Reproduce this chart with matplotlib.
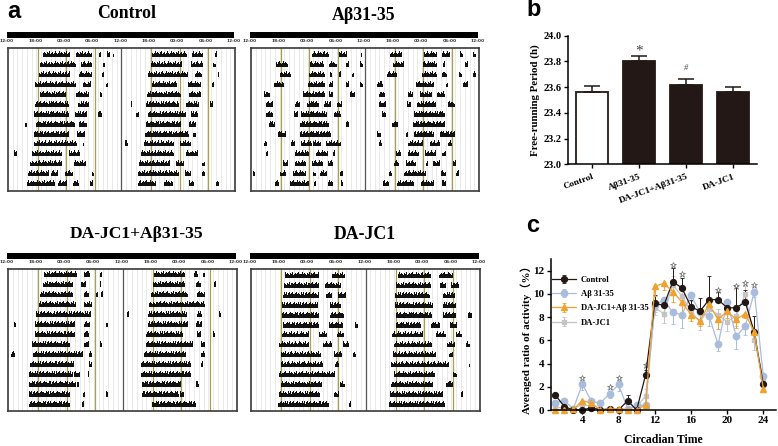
import numpy as np
import matplotlib
matplotlib.use('Agg')
import matplotlib.pyplot as plt

W, H = 778, 446
serif = ['Liberation Serif', 'Noto Sans CJK SC']

# actogram bouts, one list per day, in hours after the first 12:00 (double plotted)
control_bouts = [
    [(7.5,13.1),(14.3,17.7),(19.2,19.6),(20.9,21.5),(22.2,22.4),(30.4,37.8),(39,41.3),(43.7,44.2)],
    [(6.8,14.4),(15.4,17.7),(20,20.6),(30.2,36.8),(38.7,41.2),(43.4,43.9)],
    [(6.6,13.2),(15.1,17.7),(19.8,20.3),(29.5,38),(39.6,41.1),(44.3,44.7)],
    [(5.8,14.3),(15.9,17.5),(20.7,21.1),(30.4,35.8),(38,40.8),(43.1,43.5)],
    [(6.8,12.3),(14.4,17.2),(19.5,19.9),(29.4,36.5),(38.3,40.9)],
    [(5.8,13),(14.7,17.2),(26,26.3),(29.2,36.2),(37.7,40.4),(42.7,43.4)],
    [(5.6,13),(14.2,16.7),(19.1,19.8),(27.1,27.7),(29.6,37.7),(38.7,40.2)],
    [(3.6,4),(6,14.2),(15.1,16.6),(29.2,36.5),(38.2,39.7)],
    [(5.6,13),(14.6,16.3),(29,38.2),(39.2,39.7)],
    [(5.4,14.6),(15.8,16.1),(24.8,25.4),(28.8,35.1),(36.3,38.8)],
    [(1.2,1.8),(5.1,11.5),(12.8,15.3),(28.2,35),(37.6,40.2)],
    [(4.6,11.4),(14,16.5),(27.7,34.3),(35.6,37.3),(41.1,41.6)],
    [(4.3,8.6),(9,10.6),(12.1,13.8),(17.7,18.1),(27.5,34),(34.1,36.2),(37.5,38.7),(41,41.6)],
    [(4,10),(10.5,12.5),(13.8,15),(17.4,18),(27.4,31.3),(33,34.9),(38.2,39.4),(43.9,44.6)],
]
abeta_bouts = [
    [(12.8,16.5),(18.5,20.3),(23.1,23.4),(29.2,31.7),(36.4,39.1),(40.3,41.9),(43.9,44.6),(46.7,47.3)],
    [(5.3,7.8),(12.5,15.3),(16.5,18),(20.1,20.6),(22.9,23.5),(29.9,32.3),(36.2,39.2),(40.4,40.8),(45,45.7)],
    [(6.2,8.5),(12.3,15.5),(16.7,17),(18.6,18.9),(21.3,21.7),(28.7,30.8),(36.1,39.2),(40.3,41.2),(43.8,44.4),(46.7,47.4)],
    [(4.9,6.9),(12.1,15.5),(16.4,17.3),(20,20.6),(22.9,23.6),(26.6,27.7),(34.7,38.5),(41,41.5),(44.6,45.7)],
    [(2.8,3.9),(10.9,15.6),(16.5,17.3),(20.8,21.8),(26.9,28.3),(33.1,34.2),(35.5,38.2),(39.1,40.8)],
    [(3.1,4.6),(9.3,10.4),(11.7,14.4),(15.3,16.9),(18,19.2),(27,28.4),(32.9,33.6),(35,38.9),(41.5,42.9)],
    [(3.1,4.6),(9,9.9),(10.5,16),(17.4,19),(27.5,28.4),(34.3,40.9)],
    [(3.8,5.1),(10.4,16.5),(19.9,20.6),(29.6,31),(34.1,40.9)],
    [(5.7,7.3),(10.4,16.9),(26.6,27.3),(32.6,33.1),(34.3,38.5),(39.7,42.9)],
    [(2.7,3.4),(8.5,9.3),(10.6,12.8),(13.1,14.8),(15.8,19),(26.9,27.6),(33.1,36.2),(37.7,39.8),(41.5,42.4)],
    [(3.1,3.6),(9.2,12.3),(13.7,16.2),(17.2,17.6),(30.5,31.6),(33.1,35.4),(36.6,39),(40.3,41)],
    [(6.7,7.8),(9.2,11.6),(12.8,15.1),(16.2,17.3),(30.1,31.2),(32.6,34.7),(36.8,37.2),(38.4,39.8),(42.5,43.2)],
    [(0.4,0.8),(6.2,7.3),(8.8,11.6),(13,13.6),(14.5,15.9),(18.8,19.3),(29,29.7),(32.2,36.8),(39.9,41),(43.1,43.7)],
    [(5,5.9),(8.3,12.3),(13.3,13.6),(16.2,17.3),(19,19.4),(27.7,29.1),(30.8,34.3),(35.7,38.6),(40.3,41)],
]
combo_bouts = [
    [(7.6,14.5),(16,17.1),(19.2,19.7),(30.7,37),(39,39.8),(40.8,41.3)],
    [(7.3,13.6),(15.3,16.4),(19.2,19.5),(30.3,37.2),(39.5,40.5),(43.1,43.5)],
    [(6.8,13.6),(15.9,16.9),(18.5,18.9),(19.4,19.9),(30,37.7),(39.6,41.2)],
    [(6.6,14.3),(16,17.6),(29.5,39.8),(39.8,41.2)],
    [(5.9,17.4),(25,25.4),(29.4,37.5),(39.6,40.7),(44.2,44.7)],
    [(1.3,1.7),(5.7,14.1),(16,17.1),(20.6,21),(29.3,37.7),(39.5,40.6)],
    [(5.7,14.1),(16,16.9),(29,36.6),(39.6,40.5),(43,43.4)],
    [(5,13),(16,16.9),(19.2,19.6),(29,38.7),(40.5,41.2)],
    [(0.7,1.5),(5.3,15.7),(16.9,17.6),(28.5,37.3),(40.4,41.2)],
    [(4.7,13.8),(16.9,17.6),(27.9,38.4),(40.4,40.8)],
    [(4.3,13.6),(13.9,15),(16.7,17),(27.9,38.4)],
    [(4.3,14.3),(14.5,14.9),(28,36.3),(39.5,40)],
    [(4.5,12.9),(15.8,16.2),(20.5,21),(28,35.9),(36.1,36.8)],
    [(4.3,12.9),(15.5,15.9),(30.2,39.4)],
]
dajc_bouts = [
    [(7.2,14.3),(16.9,19.6),(30.8,37.8),(39.4,42.4)],
    [(7,14.2),(15.6,18.9),(30.4,37.8),(39.7,40.9),(42,43.7)],
    [(6.8,14.2),(15.7,17),(18.2,19.9),(30.2,37.6),(40.3,42.7)],
    [(6.5,14),(16.6,18.9),(30.2,38.1),(40.2,43)],
    [(6.6,14.3),(16.6,19.4),(30.4,37.9),(40.2,43),(45.5,46.4)],
    [(6.8,14.2),(16.4,19.2),(21.7,22.4),(30.4,35.7),(37.8,39.7),(41.7,43.1)],
    [(6.6,12.1),(14.2,15.9),(18,19.4),(29.6,36),(38.8,40.8),(43,44.3)],
    [(5.9,12.2),(15,17),(19.2,20.5),(29.9,38),(41.1,42.7),(45.1,45.8)],
    [(6.2,14.7),(17.5,19.1),(21.3,22),(29.7,38.8),(41.5,42.3)],
    [(6.2,15),(17.7,18.5),(29.4,41.4),(45.6,46)],
    [(5.8,17.7),(29.9,38.5),(42.4,43.1)],
    [(6.2,14.8),(18.7,19.6),(29.4,38.1),(40.9,42.3)],
    [(5.8,14.5),(17.3,18.5),(29.2,40.2),(44,44.4)],
    [(5.6,16.4),(20.6,21),(29,40.6)],
]
acto_ticks = [0, 6, 12, 18, 24, 30, 36, 42, 48]
acto_labels = ['12:00', '18:00', '00:00', '06:00', '12:00', '18:00', '00:00', '06:00', '12:00']
skyline = [.6, .75, 1, .7, .85, .65, .55, .9, .7, 1, .5, .75, .9, .6, .8, 1, .65]

# free-running period
groups = ['Control', 'Aβ31-35', 'DA-JC1+Aβ31-35', 'DA-JC1']
period = [23.56, 23.80, 23.62, 23.56]
period_err = [0.05, 0.04, 0.04, 0.04]

# activity profile
hours = list(range(1, 25))
act_control = [1.3,0.3,0,0,0.2,0,0.1,0,0.8,0,3.05,9.2,9.0,11.05,10.5,8.9,8.5,9.5,9.5,8.8,8.8,9.3,6.7,2.2]
err_control = [0.2,0.2,0.05,0.1,0.2,0.05,0.1,0.05,0.45,0.05,0.4,0.7,0.6,1.2,0.9,0.6,1.1,2.0,0.7,0.5,1.9,1.0,1.35,0.3]
act_abeta = [0.6,0.8,0.1,2.25,0.75,0.6,1.4,2.2,0.1,0.4,0.4,9.0,9.5,8.4,8.2,9.9,8.4,8.1,5.65,9.3,6.35,7.2,10.2,2.9]
err_abeta = [0.2,0.1,0.05,0.5,0.2,0.1,0.4,0.6,0.05,0.1,0.1,0.6,0.6,1.0,1.1,0.5,0.7,0.9,0.6,0.4,1.1,0.7,0.5,0.3]
act_combo = [0,0,0.05,0.8,0.6,0,0.1,0.1,0,0,0.45,10.65,10.9,10.2,9.3,8.2,7.7,9.1,7.8,8.5,7.8,8.3,6.7,1.85]
err_combo = [0.05,0.05,0.05,0.3,0.2,0.05,0.1,0.1,0.05,0.05,0.2,0.8,0.6,0.9,1.3,0.5,0.5,0.9,0.8,0.6,0.7,0.4,0.8,0.3]
act_dajc = [0.3,0.1,0.1,0.5,0.3,0,0.1,0.05,0.1,0.3,1.2,8.8,8.3,10.8,9.8,8.5,7.6,8.7,8.2,7.6,8.1,10,6.0,2.7]
err_dajc = [0.1,0.1,0.05,0.2,0.1,0.05,0.1,0.05,0.1,0.1,0.6,0.6,0.8,0.7,0.8,0.6,0.7,0.7,0.5,0.8,0.9,0.7,0.8,0.3]
star_hours = [4, 7, 8, 11, 14, 15, 19, 21, 22, 23]
star_tops = [2.79, 2.0, 2.75, 3.9, 12.46, 11.74, 10.36, 10.7, 10.96, 10.73]


def px_axes(left, top, right, bottom):
    return fig.add_axes([left / W, 1 - bottom / H, (right - left) / W, (bottom - top) / H])


def actogram(title, bouts, x0, x1, bar_top, box_top, box_bottom, first_row, row_step, title_x, title_y, title_size):
    bar = px_axes(x0, bar_top, x1, bar_top + 6)
    bar.set_facecolor('black')
    bar.set_xlim(0, 48)
    bar.set_yticks([])
    bar.set_xticks(acto_ticks)
    bar.set_xticklabels(acto_labels, fontsize=3.2, color='#333333', fontweight='bold')
    bar.tick_params(axis='x', length=0, pad=0.8)
    for s in bar.spines.values():
        s.set_visible(False)

    ax = px_axes(x0 + 1, box_top, x1 + 1, box_bottom)
    ax.set_xlim(0, 48)
    ax.set_ylim((box_bottom - first_row) / row_step, (box_top - first_row) / row_step)
    ax.set_xticks([])
    ax.set_yticks([])
    for h in range(1, 48):
        ax.axvline(h, color='#e2e2e2', lw=0.5, zorder=1)
    for h in [6, 12, 18, 30, 36, 42]:
        ax.axvline(h + 0.3, color='#a9a04f', lw=0.9, zorder=2)
    ax.axvline(24, color='#555555', lw=0.9, zorder=2)
    for row, day in enumerate(bouts):
        for start, end in day:
            n = max(int((end - start) / 0.2), 2)
            edges = np.linspace(start, end, n + 1)
            tops = [skyline[(k + row * 3 + int(start * 5)) % len(skyline)] * 0.6 for k in range(n)]
            ax.fill_between(edges, row, row - np.array(tops + tops[-1:]), step='post', color='#111111', lw=0, zorder=3)
    for s in ax.spines.values():
        s.set_linewidth(1.2)
        s.set_color('#3a3a3a')
    fig.text(title_x / W, 1 - title_y / H, title, family=serif, fontweight='bold', fontsize=title_size,
             ha='center', va='center')


fig = plt.figure(figsize=(W / 100, H / 100), dpi=100)

actogram('Control', control_bouts, 7, 234, 32, 48, 191, 57.3, 9.9, 127, 13, 12.8)
actogram('Aβ31-35', abeta_bouts, 250, 478, 32, 48, 191, 57.3, 9.9, 364, 15, 12.8)
actogram('DA-JC1+Aβ31-35', combo_bouts, 7, 236, 253, 269, 411, 277, 9.97, 137, 234, 12.6)
actogram('DA-JC1', dajc_bouts, 250, 479, 253, 269, 411, 278, 9.9, 365, 235, 12.8)

for letter, x, y in [('a', 7, 12), ('b', 526, 10), ('c', 526, 226)]:
    fig.text(x / W, 1 - y / H, letter, family='Liberation Sans', fontweight='bold', fontsize=17,
             ha='left', va='center')

# panel b
axb = px_axes(568.3, 35.7, 757, 164.3)
pos = np.arange(4)
axb.bar(pos, period, width=0.68, color=['white', '#231815', '#231815', '#231815'],
        edgecolor='#231815', linewidth=1.3, yerr=[np.zeros(4), period_err],
        error_kw=dict(ecolor='#231815', elinewidth=1.1, capsize=6, capthick=1.1))
axb.set_xlim(-0.51, 3.51)
axb.set_ylim(23.0, 24.0)
axb.set_yticks([23.0, 23.2, 23.4, 23.6, 23.8, 24.0])
axb.set_yticklabels(['23.0', '23.2', '23.4', '23.6', '23.8', '24.0'], family=serif, fontweight='bold', fontsize=7.5)
axb.set_xticks(pos)
axb.set_xticklabels(groups, family=serif, fontweight='bold', fontsize=6.8, rotation=20, ha='right',
                    rotation_mode='anchor')
axb.tick_params(axis='both', width=1, length=3, pad=1.5)
axb.tick_params(axis='x', pad=3)
axb.set_ylabel('Free-running Period (h)', family=serif, fontweight='bold', fontsize=7.8, labelpad=3)
axb.spines[['top', 'right']].set_visible(False)
axb.spines[['left', 'bottom']].set_linewidth(1.1)
axb.text(1, 23.88, '*', family=serif, fontsize=11, ha='center', va='center', color='#444444')
axb.text(2, 23.745, '#', family=serif, fontsize=6, ha='center', va='center', style='italic', color='#444444')

# panel c
axc = px_axes(550.7, 259, 776, 410)
series = [
    (act_dajc, err_dajc, '#c4c4c4', 's', 3, 'DA-JC1', 'both'),
    (act_abeta, err_abeta, '#a9bcdc', 'o', 4.6, 'Aβ 31-35', 'down'),
    (act_control, err_control, '#231815', 'o', 4.2, 'Control', 'up'),
    (act_combo, err_combo, '#f0a12e', '^', 4.4, 'DA-JC1+Aβ 31-35', 'down'),
]
handles = {}
for vals, errs, col, mk, ms, name, side in series:
    low = np.minimum(vals, errs) if side != 'up' else np.zeros(24)
    high = errs if side != 'down' else np.zeros(24)
    handles[name] = axc.errorbar(hours, vals, yerr=[low, high], color=col, marker=mk, ms=ms, lw=0.9,
                                 elinewidth=0.7, capsize=1.5, capthick=0.6, label=name, clip_on=False)
axc.plot(star_hours, star_tops, ls='none', marker='*', ms=4.5, mew=0.5, mfc='white', mec='#666666', clip_on=False)
axc.set_xlim(0.5, 25.4)
axc.set_ylim(0, 13)
axc.set_xticks([4, 8, 12, 16, 20, 24])
axc.set_xticklabels(['4', '8', '12', '16', '20', '24'], family=serif, fontweight='bold', fontsize=8)
axc.set_yticks([0, 2, 4, 6, 8, 10, 12])
axc.set_yticklabels(['0', '2', '4', '6', '8', '10', '12'], family=serif, fontweight='bold', fontsize=8)
axc.tick_params(axis='both', width=1, length=3, pad=1.5)
axc.set_xlabel('Circadian Time', family=serif, fontweight='bold', fontsize=8.5, labelpad=6)
axc.set_ylabel('Averaged ratio of activity（%）', family=serif, fontweight='bold', fontsize=8, labelpad=1, y=0.48)
axc.spines[['top', 'right']].set_visible(False)
axc.spines[['left', 'bottom']].set_linewidth(1.1)
order = ['Control', 'Aβ 31-35', 'DA-JC1+Aβ 31-35', 'DA-JC1']
axc.legend([handles[k] for k in order], order, loc='upper left', bbox_to_anchor=(0, 0.9), frameon=False,
           prop={'family': serif, 'weight': 'bold', 'size': 6.2}, labelspacing=0.72, handlelength=2.7,
           handletextpad=0.6, borderaxespad=0.2, borderpad=0)

fig.savefig('out.png', dpi=100)
